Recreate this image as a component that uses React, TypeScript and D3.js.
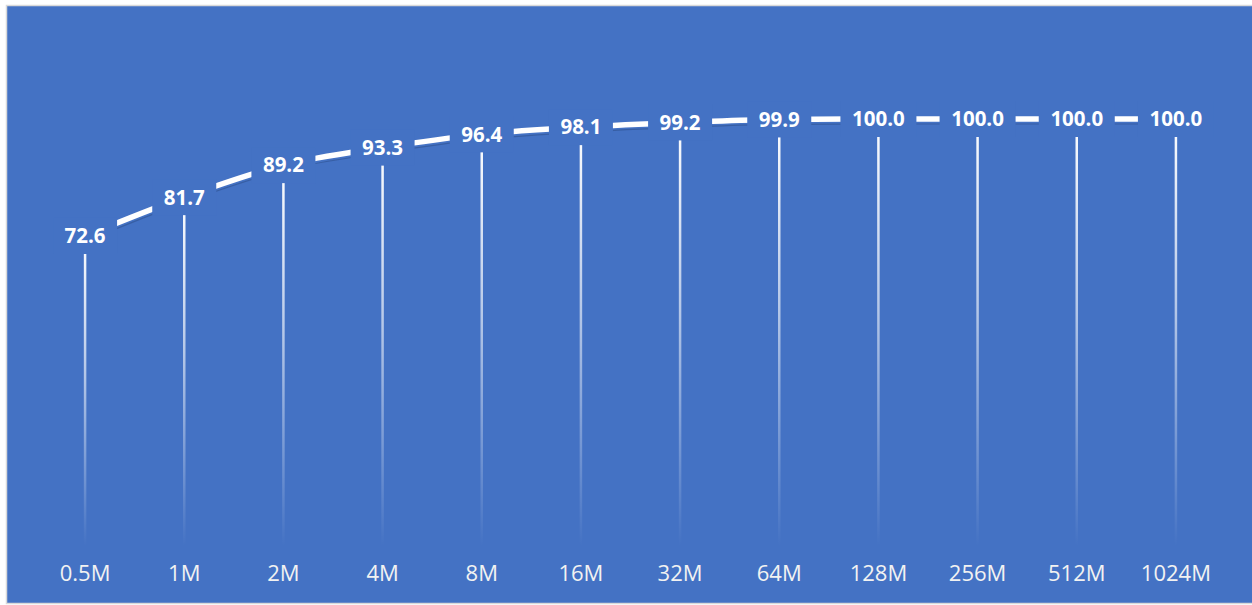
import React from "react";
import * as d3 from "d3";

const categories = ["0.5M", "1M", "2M", "4M", "8M", "16M", "32M", "64M", "128M", "256M", "512M", "1024M"];
const values = [72.6, 81.7, 89.2, 93.3, 96.4, 98.1, 99.2, 99.9, 100.0, 100.0, 100.0, 100.0];

const W = 1252;
const H = 605;
const BG = "#4472C4";

export default function App() {
  const x = d3.scalePoint<string>().domain(categories).range([35.5, 1225.5]).padding(0.5);
  const y = d3.scaleLinear().domain([0, 100]).range([546, 119]);
  const pts: [number, number][] = values.map((v, i) => [x(categories[i]) as number, y(v)]);
  const line = d3.line<[number, number]>().x((d) => d[0]).y((d) => d[1]).curve(d3.curveMonotoneX);
  const path = line(pts) || "";
  const fmt = d3.format(".1f");
  const font = "'Open Sans', sans-serif";

  return (
    <svg
      width={W}
      height={H}
      style={{ position: "absolute", left: 0, top: 0, display: "block" }}
    >
      <defs>
        <linearGradient id="drop" x1="0" y1="0" x2="0" y2="1">
          <stop offset="0" stopColor="#ffffff" stopOpacity={1} />
          <stop offset="0.45" stopColor="#ffffff" stopOpacity={0.6} />
          <stop offset="1" stopColor="#ffffff" stopOpacity={0} />
        </linearGradient>
      </defs>
      <rect x={0} y={0} width={W} height={H} fill="#ffffff" />
      <rect x={6.5} y={5.5} width={W} height={598} fill={BG} stroke="#d9d9d9" strokeWidth={1.5} />
      {/* drop lines */}
      {pts.map(([px, py], i) => (
        <rect key={"d" + i} x={px - 1.25} y={py} width={2.5} height={y(0) - py} fill="url(#drop)" />
      ))}
      {/* line shadow */}
      <path d={path} fill="none" stroke="#2F528F" strokeOpacity={0.6} strokeWidth={1.2} transform="translate(1,5)" />
      <path d={path} fill="none" stroke="#ffffff" strokeWidth={5.5} />
      {/* labels */}
      {pts.map(([px, py], i) => {
        const t = fmt(values[i]);
        const w = t.length * 12 + 16;
        return (
          <g key={"l" + i}>
            <rect x={px - w / 2} y={py - 18} width={w} height={36} fill={BG} />
            <text
              x={px}
              y={py}
              dy="0.36em"
              textAnchor="middle"
              fill="#ffffff"
              fontFamily={font}
              fontWeight="bold"
              fontSize={20.5}
            >
              {t}
            </text>
          </g>
        );
      })}
      {/* x axis labels */}
      {categories.map((c) => (
        <text
          key={"x" + c}
          x={x(c) as number}
          y={581}
          textAnchor="middle"
          fill="#f2f2f2"
          fontFamily={font}
          fontSize={22}
        >
          {c}
        </text>
      ))}
    </svg>
  );
}
